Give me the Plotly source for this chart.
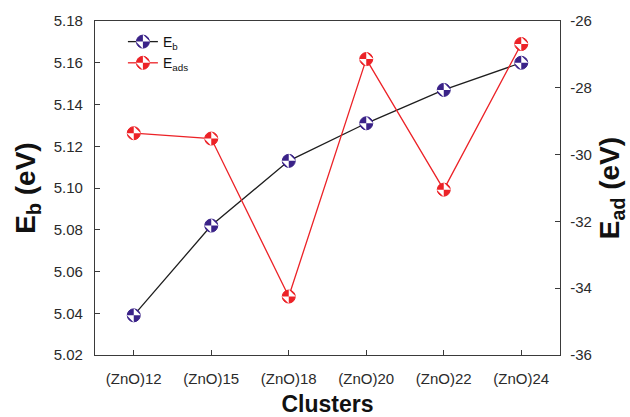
import plotly.graph_objects as go

# Cluster sizes and the two energies for each
clusters = ["(ZnO)12", "(ZnO)15", "(ZnO)18", "(ZnO)20", "(ZnO)22", "(ZnO)24"]
e_binding = [5.039, 5.082, 5.113, 5.131, 5.147, 5.160]      # eV, left axis
e_adsorption = [-29.36, -29.52, -34.25, -27.14, -31.05, -26.69]  # eV, right axis

# right-axis ticks written with a plain hyphen
ead_ticks = [-36, -34, -32, -30, -28, -26]
ead_labels = ["-36", "-34", "-32", "-30", "-28", "-26"]

FONT = "Liberation Sans, Arial, sans-serif"
BLUE = "#3a2288"
RED = "#ec2227"
AXIS = "#3a3a3a"

fig = go.Figure()

# main series: line + filled circle
fig.add_trace(go.Scatter(
    x=clusters, y=e_binding, name="E<sub>b</sub>", mode="lines+markers",
    line=dict(color="#1e1e1e", width=1.3),
    marker=dict(symbol="circle", size=13, color=BLUE, line=dict(color=BLUE, width=1)),
    yaxis="y", legend="legend",
))
fig.add_trace(go.Scatter(
    x=clusters, y=e_adsorption, name="E<sub>ads</sub>", mode="lines+markers",
    line=dict(color=RED, width=1.3),
    marker=dict(symbol="circle", size=13, color=RED, line=dict(color=RED, width=1)),
    yaxis="y2", legend="legend",
))

# white quarter wedges inside each circle
for ys, ax in ((e_binding, "y"), (e_adsorption, "y2")):
    fig.add_trace(go.Scatter(
        x=clusters, y=ys, mode="markers", name=" ",
        marker=dict(symbol="bowtie", size=10, angle=-45, color="white", line=dict(width=0)),
        yaxis=ax, legend="legend2", hoverinfo="skip",
    ))

tick_font = dict(family=FONT, size=15, color="#2a2a2a")
title_font = dict(family=FONT, size=28, color="#111111", weight="bold")
legend_font = dict(family=FONT, size=14, color="#111")

fig.update_layout(
    width=630, height=417,
    margin=dict(l=95, r=70, t=21, b=62, autoexpand=False),
    paper_bgcolor="white", plot_bgcolor="white",
    showlegend=True,
    legend=dict(x=0.06, y=0.985, xanchor="left", yanchor="top", font=legend_font,
                bgcolor="rgba(0,0,0,0)", itemwidth=30, tracegroupgap=0),
    legend2=dict(x=0.06, y=0.985, xanchor="left", yanchor="top", font=legend_font,
                 bgcolor="rgba(0,0,0,0)", itemwidth=30, tracegroupgap=0),
    xaxis=dict(
        type="category", categoryorder="array", categoryarray=clusters,
        range=[-0.5, 5.5], showgrid=False, zeroline=False, automargin=False,
        showline=True, linecolor=AXIS, linewidth=1.3, mirror=True,
        ticks="inside", ticklen=5, tickcolor=AXIS, tickwidth=1,
        tickfont=tick_font, ticklabelstandoff=10,
        title=dict(text="Clusters", font=dict(family=FONT, size=23, color="#111", weight="bold"), standoff=12),
    ),
    yaxis=dict(
        range=[5.02, 5.18], dtick=0.02, tickformat=".2f", automargin=False,
        showgrid=False, zeroline=False,
        showline=True, linecolor=AXIS, linewidth=1.3,
        ticks="inside", ticklen=5, tickcolor=AXIS, tickwidth=1,
        tickfont=tick_font, ticklabelstandoff=8,
        title=dict(text="E<sub>b</sub> (eV)", font=title_font, standoff=9),
    ),
    yaxis2=dict(
        overlaying="y", side="right", automargin=False,
        range=[-36, -26], tickvals=ead_ticks, ticktext=ead_labels,
        showgrid=False, zeroline=False,
        showline=True, linecolor=AXIS, linewidth=1.3,
        ticks="inside", ticklen=5, tickcolor=AXIS, tickwidth=1,
        tickfont=tick_font, ticklabelstandoff=6,
        title=dict(text="E<sub>ad</sub> (eV)", font=title_font, standoff=8),
    ),
)

fig.write_html("out.html")
